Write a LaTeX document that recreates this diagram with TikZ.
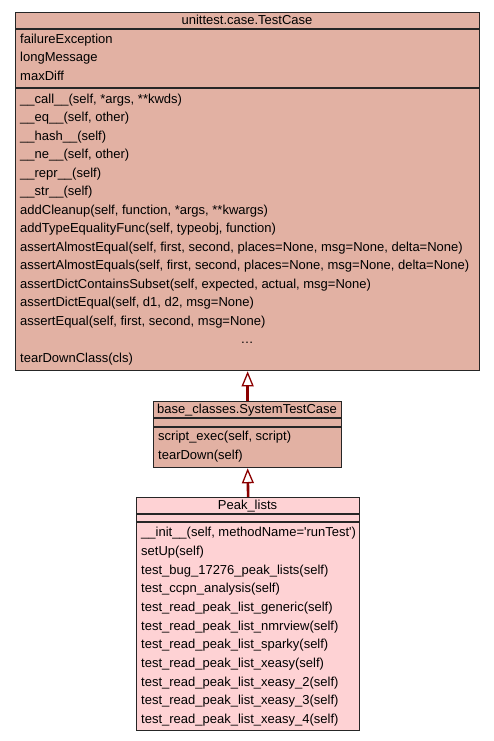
\documentclass[tikz,border=0pt]{standalone}
\usepackage{fontspec}
\setmainfont{Liberation Sans}
\usepackage{tikz}
\usetikzlibrary{positioning}
\usetikzlibrary{arrows.meta}

\definecolor{basefill}{RGB}{226,177,163}
\definecolor{leaffill}{RGB}{254,210,212}
\definecolor{inherit}{RGB}{139,0,0}

\begin{document}
\begin{tikzpicture}[x=1pt, y=-1pt, every node/.style={font=\fontsize{13}{15}\selectfont},
    classbox/.style={draw=black!85, line width=1.3pt, inner sep=0pt, anchor=north west},
    member/.style={anchor=west, inner sep=0pt, text height=9.5pt, text depth=3pt},
    classname/.style={inner sep=0pt, text height=9.5pt, text depth=3pt},
    sep/.style={draw=black!85, line width=1.3pt},
    isa/.style={draw=inherit, line width=2.6pt,
        -{Triangle[length=15pt, width=12pt, fill=white, line width=1.3pt]}}]
\useasboundingbox (0,0) rectangle (493,741);

% unittest.case.TestCase
\node[classbox, fill=basefill, minimum width=464pt, minimum height=358pt] (testcase) at (15,12) {};
\draw[sep] (testcase.west |- 0,29) -- (testcase.east |- 0,29); % name
\draw[sep] (testcase.west |- 0,88) -- (testcase.east |- 0,88); % attributes
\node[classname] (testcase-name) at (247,21.5) {unittest.case.TestCase};
\foreach \m [count=\i from 0] in {failureException, longMessage, maxDiff}
    \node[member] (testcase-attr-\i) at (20,40+18.5*\i) {\m};
\foreach \m [count=\i from 0] in {
    {\_\_call\_\_(self, *args, **kwds)},
    {\_\_eq\_\_(self, other)},
    {\_\_hash\_\_(self)},
    {\_\_ne\_\_(self, other)},
    {\_\_repr\_\_(self)},
    {\_\_str\_\_(self)},
    {addCleanup(self, function, *args, **kwargs)},
    {addTypeEqualityFunc(self, typeobj, function)},
    {assertAlmostEqual(self, first, second, places=None, msg=None, delta=None)},
    {assertAlmostEquals(self, first, second, places=None, msg=None, delta=None)},
    {assertDictContainsSubset(self, expected, actual, msg=None)},
    {assertDictEqual(self, d1, d2, msg=None)},
    {assertEqual(self, first, second, msg=None)}}
    \node[member] (testcase-op-\i) at (20,100+18.5*\i) {\m};
\node[classname] (testcase-more) at (247,100+18.5*13) {\ldots};
\node[member] (testcase-op-14) at (20,100+18.5*14) {tearDownClass(cls)};

% base_classes.SystemTestCase
\node[classbox, fill=basefill, minimum width=188pt, minimum height=66pt] (systest) at (153,401) {};
\draw[sep] (systest.west |- 0,418) -- (systest.east |- 0,418); % name
\draw[sep] (systest.west |- 0,427) -- (systest.east |- 0,427); % attributes
\node[classname] (systest-name) at (247,410) {base\_classes.SystemTestCase};
\node[member] (systest-op-0) at (158,437.5) {script\_exec(self, script)};
\node[member] (systest-op-1) at (158,456.5) {tearDown(self)};

% Peak_lists
\node[classbox, fill=leaffill, minimum width=223pt, minimum height=233pt] (peaklists) at (136,497) {};
\draw[sep] (peaklists.west |- 0,514) -- (peaklists.east |- 0,514); % name
\draw[sep] (peaklists.west |- 0,522) -- (peaklists.east |- 0,522); % attributes
\node[classname] (peaklists-name) at (247.5,506) {Peak\_lists};
\foreach \m [count=\i from 0] in {
    {\_\_init\_\_(self, methodName=\textquotesingle runTest\textquotesingle)},
    {setUp(self)},
    {test\_bug\_17276\_peak\_lists(self)},
    {test\_ccpn\_analysis(self)},
    {test\_read\_peak\_list\_generic(self)},
    {test\_read\_peak\_list\_nmrview(self)},
    {test\_read\_peak\_list\_sparky(self)},
    {test\_read\_peak\_list\_xeasy(self)},
    {test\_read\_peak\_list\_xeasy\_2(self)},
    {test\_read\_peak\_list\_xeasy\_3(self)},
    {test\_read\_peak\_list\_xeasy\_4(self)}}
    \node[member] (peaklists-op-\i) at (141,533.5+18.67*\i) {\m};

% inheritance
\draw[isa] (systest.north) -- (testcase.south);
\draw[isa] (peaklists.north) -- (systest.south);
\end{tikzpicture}
\end{document}
